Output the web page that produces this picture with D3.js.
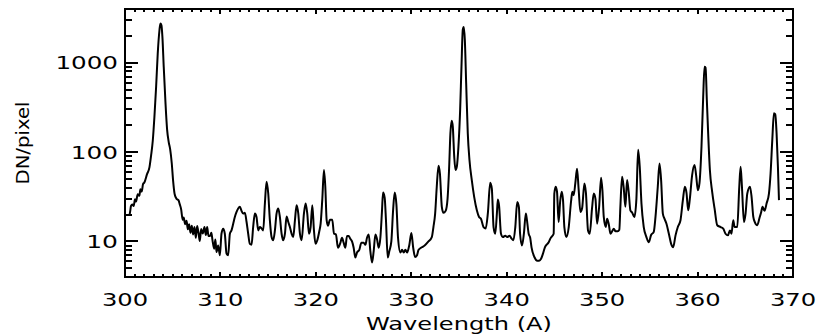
<!DOCTYPE html>
<html>
<head>
<meta charset="utf-8">
<script src="https://cdn.jsdelivr.net/npm/d3@7"></script>
<style>
  html, body { margin: 0; padding: 0; background: #fff; }
  svg { display: block; }
  .lbl { font-family: "DejaVu Sans", sans-serif; font-weight: 400; fill: #000; }
  .tk { stroke: #000; stroke-width: 2; fill: none; }
</style>
</head>
<body>
<svg id="chart" width="818" height="335" viewBox="0 0 818 335"></svg>
<script>
// Spectrum samples: wavelength (Angstrom) and intensity (DN/pixel)
const wavelength = [
  300.46, 300.55, 300.63, 300.77, 300.91, 301.05, 301.16, 301.33, 301.51, 301.61,
  301.75, 301.89, 302.03, 302.31, 302.56, 302.73, 302.91, 303.08, 303.26, 303.43,
  303.61, 303.71, 303.82, 303.92, 304.06, 304.24, 304.41, 304.59, 304.73, 304.90,
  305.04, 305.20, 305.40, 305.60, 305.74, 305.88, 306.05, 306.15, 306.30, 306.45,
  306.58, 306.72, 306.86, 307.00, 307.14, 307.28, 307.42, 307.56, 307.70, 307.84,
  307.98, 308.15, 308.33, 308.47, 308.61, 308.75, 308.90, 309.05, 309.17, 309.34,
  309.47, 309.59, 309.76, 309.94, 310.11, 310.29, 310.46, 310.64, 310.81, 310.99,
  311.16, 311.34, 311.51, 311.69, 311.86, 312.04, 312.21, 312.39, 312.56, 312.74,
  312.91, 313.08, 313.26, 313.43, 313.61, 313.78, 313.96, 314.13, 314.31, 314.48,
  314.66, 314.83, 315.01, 315.18, 315.36, 315.53, 315.71, 315.88, 316.06, 316.23,
  316.41, 316.58, 316.76, 316.93, 317.11, 317.28, 317.46, 317.63, 317.81, 317.98,
  318.16, 318.33, 318.51, 318.75, 318.93, 319.10, 319.28, 319.45, 319.63, 319.80,
  319.97, 320.15, 320.36, 320.50, 320.67, 320.85, 320.99, 321.13, 321.27, 321.48,
  321.72, 321.90, 322.10, 322.32, 322.56, 322.74, 322.91, 323.09, 323.26, 323.44,
  323.61, 323.79, 323.96, 324.14, 324.31, 324.56, 324.77, 325.01, 325.19, 325.36,
  325.54, 325.71, 325.89, 326.06, 326.24, 326.41, 326.59, 326.76, 326.93, 327.04,
  327.21, 327.35, 327.53, 327.70, 327.91, 328.09, 328.26, 328.44, 328.61, 328.86,
  329.03, 329.21, 329.38, 329.56, 329.80, 330.01, 330.20, 330.40, 330.60, 330.75,
  331.10, 331.40, 331.80, 332.15, 332.32, 332.50, 332.67, 332.85, 333.00, 333.20,
  333.37, 333.60, 333.80, 333.97, 334.10, 334.24, 334.35, 334.50, 334.63, 334.77,
  334.94, 335.12, 335.26, 335.40, 335.50, 335.61, 335.75, 335.92, 336.10, 336.34,
  336.59, 336.87, 337.10, 337.30, 337.57, 337.80, 338.02, 338.27, 338.44, 338.62,
  338.80, 338.97, 339.07, 339.20, 339.40, 339.60, 339.85, 340.05, 340.30, 340.50,
  340.70, 340.90, 341.10, 341.28, 341.40, 341.60, 341.80, 342.00, 342.10, 342.30,
  342.46, 342.60, 342.90, 343.20, 343.40, 343.60, 343.80, 344.00, 344.40, 344.60,
  344.92, 344.99, 345.13, 345.27, 345.44, 345.60, 345.76, 345.90, 346.04, 346.25,
  346.50, 346.74, 346.88, 347.02, 347.19, 347.37, 347.54, 347.72, 347.90, 348.14,
  348.30, 348.52, 348.70, 348.94, 349.12, 349.30, 349.47, 349.68, 349.89, 350.03,
  350.17, 350.38, 350.52, 350.70, 350.87, 351.05, 351.22, 351.40, 351.63, 351.80,
  351.91, 352.09, 352.26, 352.44, 352.61, 352.78, 352.96, 353.15, 353.38, 353.59,
  353.77, 353.94, 354.12, 354.36, 354.64, 354.89, 355.13, 355.41, 355.59, 355.83,
  356.01, 356.18, 356.36, 356.53, 356.74, 356.99, 357.23, 357.44, 357.69, 357.93,
  358.21, 358.46, 358.67, 358.84, 359.02, 359.19, 359.43, 359.68, 359.85, 360.03,
  360.20, 360.41, 360.59, 360.73, 360.84, 360.97, 361.11, 361.29, 361.53, 361.78,
  362.06, 362.41, 362.69, 362.93, 363.18, 363.39, 363.55, 363.74, 363.88, 364.16,
  364.37, 364.51, 364.65, 364.86, 365.03, 365.21, 365.49, 365.66, 365.84, 366.00,
  366.25, 366.50, 366.67, 366.81, 367.02, 367.23, 367.48, 367.65, 367.83, 368.00,
  368.14, 368.28, 368.42, 368.53
];
const dnPerPixel = [
  19.3, 22, 25, 26, 25, 29.7, 28, 33.8, 32.4, 38.5,
  36.2, 43.8, 45.7, 56.7, 67.5, 91, 134, 246, 535, 1265,
  2312, 2750, 2630, 1950, 896, 360, 180, 128, 108, 75,
  48, 34, 30, 29, 26, 23, 17.5, 18.5, 15.6, 17,
  13.7, 15.6, 12.5, 15, 12, 14.5, 11, 14.9, 12.5, 10.1,
  13.8, 12.3, 14.5, 11.8, 14.5, 11.5, 11.5, 12.5, 10.3, 8.3,
  10.5, 7.6, 9, 7, 12.2, 13.9, 12.2, 7.3, 7, 12.2,
  13.3, 15.8, 18.8, 21.4, 23.4, 24.4, 22, 20.5, 21, 16.5,
  12.2, 9.4, 9.2, 14.5, 20.5, 18.8, 13.3, 14.5, 14, 13.3,
  26.6, 46.6, 34.4, 17.3, 11.2, 10.3, 13.3, 20.5, 23.4, 18.8,
  12.2, 10.3, 12.2, 19, 16.5, 14.5, 12.2, 11.2, 17.3, 25.5,
  20.5, 12.2, 10.3, 20.5, 26.6, 20.5, 12.2, 14.5, 25.5, 13.3,
  9.4, 10.3, 13, 15.8, 29, 63, 41, 17.3, 15, 17.5,
  17.5, 12.2, 12, 8.5, 9.6, 11, 9.7, 8.5, 11.5, 11.5,
  10.7, 10, 8.5, 6.6, 7.5, 8.1, 9.7, 9.7, 9.2, 11,
  12, 7.8, 5.8, 7.8, 12, 10.6, 8.5, 11, 22, 35.3,
  31, 17, 6.6, 7.8, 10, 22, 35.3, 26, 11, 7.5,
  8.1, 7.5, 8.1, 7.5, 9.2, 12.4, 8.5, 6.7, 7, 8,
  8.6, 9, 10, 11.2, 14.5, 20.5, 41, 70.5, 57.6, 24.4,
  20.9, 22, 30, 68.5, 163, 225, 193, 89, 63, 68.5,
  115, 297, 912, 2355, 2520, 1820, 593, 162, 81, 48.6,
  31.6, 22.3, 18.8, 18, 14.5, 14, 20.5, 45.4, 39, 14.5,
  12.2, 20.5, 29.4, 25, 12.2, 11.2, 11.6, 11.2, 11.6, 10.8,
  10.3, 14.5, 27.7, 24, 12.2, 9, 12.2, 20.5, 18, 12.2,
  11, 8.6, 6.7, 6.1, 6.1, 6.4, 7.3, 8.6, 9.8, 10.9,
  12.2, 34.4, 41, 36, 16.5, 28, 36, 29, 14.5, 11.2,
  14.5, 28, 36, 33, 45, 65, 38, 21.4, 23.5, 44.6,
  35, 13.3, 12.2, 23.4, 34.4, 30, 15.8, 24, 51.6, 37,
  18.8, 14.5, 18, 15.5, 12.2, 13, 13.9, 13, 13, 13.5,
  24.4, 53, 40, 24.4, 48.6, 36, 22.3, 21, 18.8, 30,
  106, 68.5, 26.6, 14.5, 11.2, 9.8, 11.8, 12.8, 18.8, 41,
  74.8, 48.6, 20.5, 18, 15.8, 12.2, 9.4, 8.6, 11.7, 14.5,
  17.3, 29, 41, 35, 22.3, 30, 55.3, 71.6, 55, 37.5,
  45, 115, 420, 900, 880, 385, 162, 63, 35.9, 23.4,
  15.2, 14.5, 13.9, 12.2, 11.7, 13.3, 12.2, 17.3, 14.5, 14.5,
  41, 68.5, 41, 16.5, 20.5, 34.4, 41, 31.6, 18.8, 16.5,
  15.2, 18.5, 21.4, 24.4, 22, 26.6, 34.4, 57.7, 137, 273,
  265, 162, 68.5, 29
];

// Axis ranges and labelled ticks
const xDomain = [300, 370];
const yDomain = [4, 4000];
const xTickValues = [300, 310, 320, 330, 340, 350, 360, 370];
const yTickValues = [10, 100, 1000];
const xMinorTicks = d3.range(301, 370).filter(v => v % 10 !== 0);
const yMinorTicks = [5, 6, 7, 8, 9, 20, 30, 40, 50, 60, 70, 80, 90,
                     200, 300, 400, 500, 600, 700, 800, 900, 2000, 3000];
const xTitle = "Wavelength (A)";
const yTitle = "DN/pixel";

const svg = d3.select("#chart");
const plot = { left: 125, right: 793, top: 9, bottom: 277 };
const pw = plot.right - plot.left, ph = plot.bottom - plot.top;

const xScale = d3.scaleLinear().domain(xDomain).range([plot.left, plot.right]);
const yScale = d3.scaleLog().domain(yDomain).range([plot.bottom, plot.top]);

// Inward ticks on all four sides: 2% of the plot box, minor ticks half as long
const xMajorLen = Math.round(0.02 * ph), yMajorLen = Math.round(0.02 * pw);
const tickDefs = [];
xTickValues.forEach(v => tickDefs.push({ axis: "x", v, len: xMajorLen }));
xMinorTicks.forEach(v => tickDefs.push({ axis: "x", v, len: Math.round(xMajorLen / 2) }));
yTickValues.forEach(v => tickDefs.push({ axis: "y", v, len: yMajorLen }));
yMinorTicks.forEach(v => tickDefs.push({ axis: "y", v, len: Math.round(yMajorLen / 2) }));

let tickPath = "";
tickDefs.forEach(t => {
  if (t.axis === "x") {
    const px = Math.round(xScale(t.v));
    tickPath += `M${px},${plot.bottom}V${plot.bottom - t.len}`;
    tickPath += `M${px},${plot.top}V${plot.top + t.len}`;
  } else {
    const py = Math.round(yScale(t.v));
    tickPath += `M${plot.left},${py}H${plot.left + t.len}`;
    tickPath += `M${plot.right},${py}H${plot.right - t.len}`;
  }
});
svg.append("path").attr("class", "tk").attr("d", tickPath);

// Plot box
svg.append("path").attr("class", "tk")
  .attr("d", `M${plot.left},${plot.top}H${plot.right}V${plot.bottom}H${plot.left}Z`);

// Tick labels (wide vector-style digits)
const charW = 15.4, fs = 17;
svg.append("g").selectAll("text").data(xTickValues).join("text")
  .attr("class", "lbl")
  .attr("x", d => xScale(d)).attr("y", 306)
  .attr("text-anchor", "middle")
  .attr("font-size", fs)
  .attr("textLength", d => String(d).length * charW)
  .attr("lengthAdjust", "spacingAndGlyphs")
  .text(d => d);

svg.append("g").selectAll("text").data(yTickValues).join("text")
  .attr("class", "lbl")
  .attr("x", 118).attr("y", d => yScale(d) + 6.5)
  .attr("text-anchor", "end")
  .attr("font-size", fs)
  .attr("textLength", d => String(d).length * charW + 1)
  .attr("lengthAdjust", "spacingAndGlyphs")
  .text(d => d);

// Axis titles
svg.append("text").attr("class", "lbl")
  .attr("x", (plot.left + plot.right) / 2).attr("y", 330)
  .attr("text-anchor", "middle").attr("font-size", fs)
  .attr("textLength", 186).attr("lengthAdjust", "spacingAndGlyphs")
  .text(xTitle);

svg.append("text").attr("class", "lbl")
  .attr("transform", `translate(29,${(plot.top + plot.bottom) / 2}) rotate(-90)`)
  .attr("text-anchor", "middle").attr("font-size", fs)
  .attr("textLength", 83).attr("lengthAdjust", "spacingAndGlyphs")
  .text(yTitle);

// Spectrum line
const data = wavelength.map((w, i) => ({ w, v: dnPerPixel[i] }));
svg.append("path")
  .datum(data)
  .attr("fill", "none")
  .attr("stroke", "#000")
  .attr("stroke-width", 2)
  .attr("stroke-linejoin", "round")
  .attr("d", d3.line().x(d => xScale(d.w)).y(d => yScale(d.v)).curve(d3.curveMonotoneX));
</script>
</body>
</html>
